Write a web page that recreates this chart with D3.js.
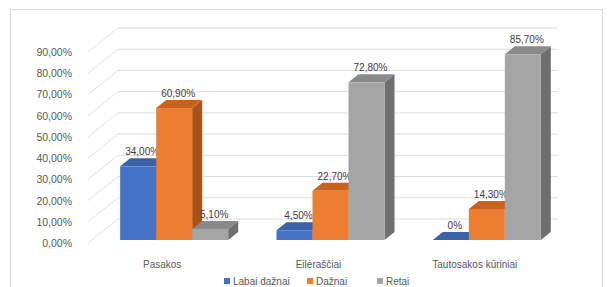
<!DOCTYPE html>
<html>
<head>
<meta charset="utf-8">
<script src="https://cdn.jsdelivr.net/npm/d3@7/dist/d3.min.js"></script>
<style>
body{margin:0;background:#fff;}
svg text{font-family:"Liberation Sans",Arial,sans-serif;}
</style>
</head>
<body>
<svg id="chart" width="613" height="287"></svg>
<script>
var categories = ["Pasakos","Eilėraščiai","Tautosakos kūriniai"];
var series = ["Labai dažnai","Dažnai","Retai"];
var labaiDaznai = [34.0, 4.5, 0];
var daznai = [60.9, 22.7, 14.3];
var retai = [5.1, 72.8, 85.7];
var valueLabels = [["34,00%","4,50%","0%"],["60,90%","22,70%","14,30%"],["5,10%","72,80%","85,70%"]];
var ticks = [0,10,20,30,40,50,60,70,80,90];

var values = [labaiDaznai, daznai, retai];
var front = ["#4472c4","#ed7d31","#a5a5a5"];
var top_ = ["#3a62a8","#c9621f","#8a8a8a"];
var side = ["#2c4d8a","#a9521a","#6f6f6f"];

var svg = d3.select("#chart");

svg.append("rect").attr("x",10.5).attr("y",9.5).attr("width",592).attr("height",290)
	.attr("fill","#fff").attr("stroke","#d9d9d9");

// axis scale (front edge of side wall) and bar scale
var yAxisScale = d3.scaleLinear().domain([0,90]).range([243,52]);
var yBar = d3.scaleLinear().domain([0,90]).range([240,45]);
var wallDx = 30, wallDy = -24;
var wallLeft = 88, wallRight = 558;

var grid = svg.append("g");
ticks.forEach(function(t){
	var y = yAxisScale(t);
	grid.append("line").attr("x1",wallLeft).attr("y1",y)
		.attr("x2",wallLeft+wallDx).attr("y2",y+wallDy)
		.attr("stroke","#e3e3e3");
	grid.append("line").attr("x1",wallLeft+wallDx).attr("y1",y+wallDy)
		.attr("x2",wallRight).attr("y2",y+wallDy)
		.attr("stroke","#dcdcdc");
	svg.append("text").attr("x",72).attr("y",y+4).attr("text-anchor","end")
		.attr("font-size",10.5).attr("fill","#595959")
		.text(d3.format(".2f")(t).replace(".",",")+"%");
});

var x0 = d3.scaleBand().domain(categories).range([96,565]);
var x1 = d3.scaleBand().domain(series).range([0,108]);
var dx = 10, dy = -8;

series.forEach(function(s,si){
	var g = svg.append("g");
	categories.forEach(function(c,ci){
		var v = values[si][ci];
		var xl = x0(c) + x0.bandwidth()/2 - 54 + x1(s);
		var w = x1.bandwidth();
		var yt = yBar(v), yb = yBar(0);
		// side face
		g.append("path").attr("d","M"+(xl+w)+","+yb+"L"+(xl+w+dx)+","+(yb+dy)+"L"+(xl+w+dx)+","+(yt+dy)+"L"+(xl+w)+","+yt+"Z")
			.attr("fill",side[si]);
		// top face
		g.append("path").attr("d","M"+xl+","+yt+"L"+(xl+dx)+","+(yt+dy)+"L"+(xl+w+dx)+","+(yt+dy)+"L"+(xl+w)+","+yt+"Z")
			.attr("fill",top_[si]);
		// front face
		g.append("rect").attr("x",xl).attr("y",yt).attr("width",w).attr("height",Math.max(0,yb-yt))
			.attr("fill",front[si]);
		svg.append("text").attr("x",xl+w/2+4).attr("y",yt+dy-3)
			.attr("text-anchor","middle").attr("font-size",10).attr("fill","#404040")
			.text(valueLabels[si][ci]);
	});
});

categories.forEach(function(c){
	svg.append("text").attr("x",x0(c)+x0.bandwidth()/2-12).attr("y",268)
		.attr("text-anchor","middle").attr("font-size",10).attr("fill","#595959").text(c);
});

var legendX = [224,307,377];
series.forEach(function(s,i){
	svg.append("rect").attr("x",legendX[i]).attr("y",278).attr("width",6).attr("height",6).attr("fill",front[i]);
	svg.append("text").attr("x",legendX[i]+9).attr("y",284.5).attr("font-size",10).attr("fill","#595959").text(s);
});
</script>
</body>
</html>
